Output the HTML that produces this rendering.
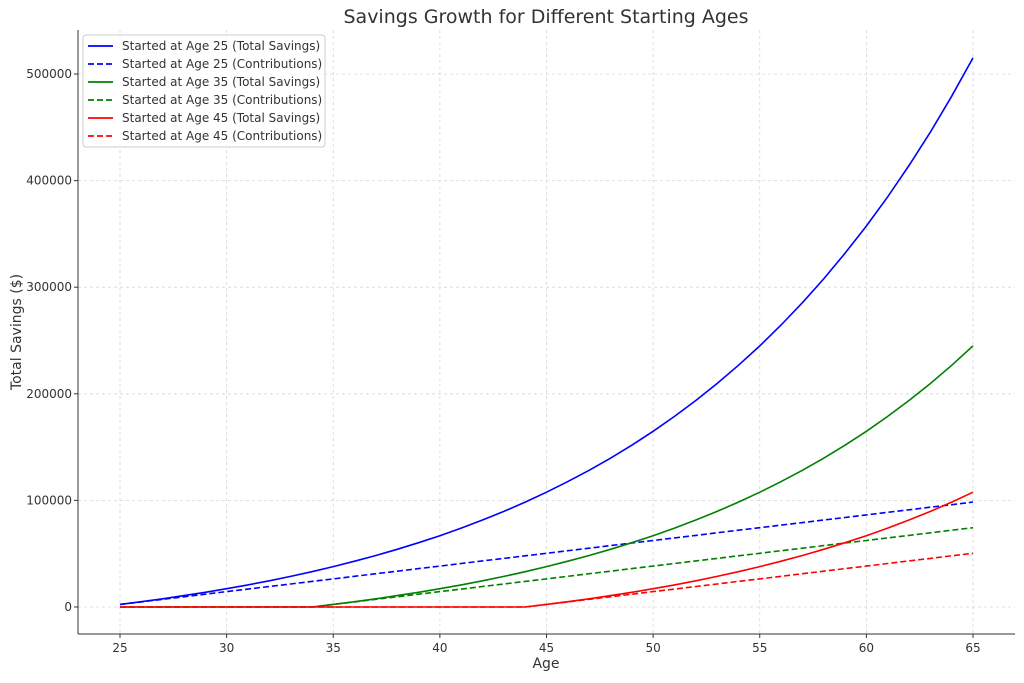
<!DOCTYPE html>
<html><head><meta charset="utf-8"><style>
body{margin:0;background:#fff;font-family:"DejaVu Sans","Liberation Sans",sans-serif;}
svg text{font-family:"DejaVu Sans","Liberation Sans",sans-serif;fill:#333;}
</style></head><body>
<svg id="chart" width="1024" height="679" viewBox="0 0 1024 679" xmlns="http://www.w3.org/2000/svg">
<text x="546" y="23" font-size="19" text-anchor="middle">Savings Growth for Different Starting Ages</text>
<g id="grid"></g>
<g id="axes"></g>
<g id="series"></g>
<text x="546" y="668" font-size="14" text-anchor="middle">Age</text>
<text x="21" y="332" font-size="14" text-anchor="middle" transform="rotate(-90 21 332)">Total Savings ($)</text>
<g id="legend"></g>
</svg>
<script>
const ages=[25,26,27,28,29,30,31,32,33,34,35,36,37,38,39,40,41,42,43,44,45,46,47,48,49,50,51,52,53,54,55,56,57,58,59,60,61,62,63,64,65];
const total25=[2400,4968,7716,10656,13802,17168,20770,24624,28748,33160,37881,42933,48338,54122,60310,66932,74017,81598,89710,98390,107677,117615,128248,139625,151799,164825,178763,193676,209634,226708,244978,264526,285443,307824,331772,357396,384814,414151,445542,479130,515069];
const contrib25=[2400,4800,7200,9600,12000,14400,16800,19200,21600,24000,26400,28800,31200,33600,36000,38400,40800,43200,45600,48000,50400,52800,55200,57600,60000,62400,64800,67200,69600,72000,74400,76800,79200,81600,84000,86400,88800,91200,93600,96000,98400];
const total35=[0,0,0,0,0,0,0,0,0,0,2400,4968,7716,10656,13802,17168,20770,24624,28748,33160,37881,42933,48338,54122,60310,66932,74017,81598,89710,98390,107677,117615,128248,139625,151799,164825,178763,193676,209634,226708,244978];
const contrib35=[0,0,0,0,0,0,0,0,0,0,2400,4800,7200,9600,12000,14400,16800,19200,21600,24000,26400,28800,31200,33600,36000,38400,40800,43200,45600,48000,50400,52800,55200,57600,60000,62400,64800,67200,69600,72000,74400];
const total45=[0,0,0,0,0,0,0,0,0,0,0,0,0,0,0,0,0,0,0,0,2400,4968,7716,10656,13802,17168,20770,24624,28748,33160,37881,42933,48338,54122,60310,66932,74017,81598,89710,98390,107677];
const contrib45=[0,0,0,0,0,0,0,0,0,0,0,0,0,0,0,0,0,0,0,0,2400,4800,7200,9600,12000,14400,16800,19200,21600,24000,26400,28800,31200,33600,36000,38400,40800,43200,45600,48000,50400];
const xTicks=[25,30,35,40,45,50,55,60,65];
const yTicks=[0,100000,200000,300000,400000,500000];
const seriesNames=["Started at Age 25 (Total Savings)","Started at Age 25 (Contributions)","Started at Age 35 (Total Savings)","Started at Age 35 (Contributions)","Started at Age 45 (Total Savings)","Started at Age 45 (Contributions)"];

const NS="http://www.w3.org/2000/svg";
const L=78,R=1015,T=30,B=634;
const x=a=>120+(a-25)*(973-120)/40;
const y=v=>607-v*(607-74)/500000;
function mk(tag,attrs,parent){const e=document.createElementNS(NS,tag);for(const k in attrs)e.setAttribute(k,attrs[k]);parent.appendChild(e);return e;}
const grid=document.getElementById('grid'),axes=document.getElementById('axes'),ser=document.getElementById('series'),leg=document.getElementById('legend');
xTicks.forEach(t=>{
  const g=mk('line',{x1:x(t),x2:x(t),y1:T,y2:B,stroke:'#d6d6d6','stroke-dasharray':'3,3','stroke-width':0.8},grid);
  
  
  const tk=mk('line',{x1:x(t),x2:x(t),y1:B,y2:B+4,stroke:'#333'},axes);
  
  
  const lb=mk('text',{x:x(t),y:B+18,'font-size':12,'text-anchor':'middle'},axes);lb.textContent=t;
  
  
});
yTicks.forEach(t=>{
  const g=mk('line',{x1:L,x2:R,y1:y(t),y2:y(t),stroke:'#d6d6d6','stroke-dasharray':'3,3','stroke-width':0.8},grid);
  
  
  const tk=mk('line',{x1:L-4,x2:L,y1:y(t),y2:y(t),stroke:'#333'},axes);
  
  
  const lb=mk('text',{x:L-6,y:y(t)+4,'font-size':12,'text-anchor':'end'},axes);lb.textContent=t;
  
  
});
const la=mk('line',{x1:L,x2:L,y1:T,y2:B,stroke:'#333','stroke-width':1},axes);


const lb2=mk('line',{x1:L,x2:R,y1:B,y2:B,stroke:'#333','stroke-width':1},axes);


const all=[[total25,'#0000ff',''],[contrib25,'#0000ff','6,3'],[total35,'#008000',''],[contrib35,'#008000','6,3'],[total45,'#ff0000',''],[contrib45,'#ff0000','6,3']];
const names=['line-age25-total','line-age25-contrib','line-age35-total','line-age35-contrib','line-age45-total','line-age45-contrib'];
all.forEach((s,i)=>{
  const d=s[0].map((v,j)=>(j?'L':'M')+x(ages[j]).toFixed(1)+','+y(v).toFixed(1)).join(' ');
  const p=mk('path',{d:d,fill:'none',stroke:s[1],'stroke-width':1.6,'stroke-dasharray':s[2]||'none'},ser);
  
  
});
const box=mk('rect',{x:83,y:35,width:242,height:112,rx:3,fill:'#fff','fill-opacity':0.85,stroke:'#ccc'},leg);


seriesNames.forEach((n,i)=>{
  const yy=46+i*18;
  const ln=mk('line',{x1:88,x2:113,y1:yy,y2:yy,stroke:all[i][1],'stroke-width':1.8,'stroke-dasharray':all[i][2]||'none'},leg);
  
  
  const t=mk('text',{x:122,y:yy+4,'font-size':12},leg);t.textContent=n;
  
  
});
</script>
</body></html>
